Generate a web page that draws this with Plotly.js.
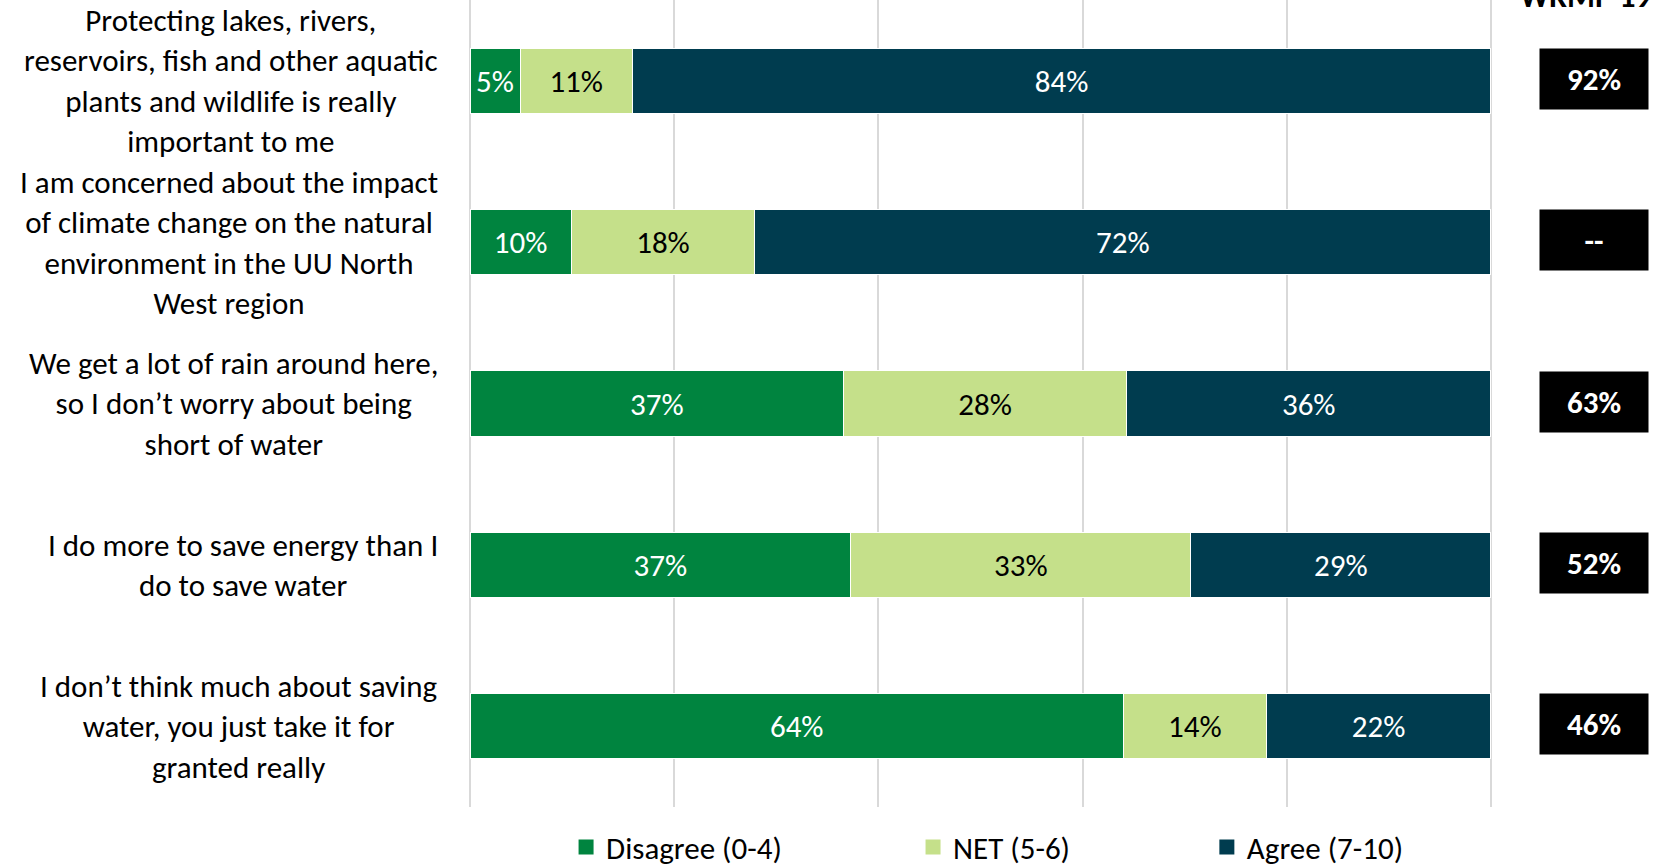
<!DOCTYPE html>
<html>
<head>
<meta charset="utf-8">
<script src="https://cdn.plot.ly/plotly-3.0.1.min.js"></script>
<style>html,body{margin:0;padding:0;background:#fff;}#chart{width:1675px;height:866px;}</style>
</head>
<body>
<div id="chart"></div>
<script>
const categories = [
  "Protecting lakes, rivers,<br>reservoirs, fish and other aquatic<br>plants and wildlife is really<br>important to me",
  "I am concerned about the impact<br>of climate change on the natural<br>environment in the UU North<br>West region",
  "We get a lot of rain around here,<br>so I don’t worry about being<br>short of water",
  "I do more to save energy than I<br>do to save water",
  "I don’t think much about saving<br>water, you just take it for<br>granted really"
];
const catIds = ["c1", "c2", "c3", "c4", "c5"];
const disagree = [4.9, 9.9, 36.6, 37.3, 64.0];
const net = [11.0, 18.0, 27.7, 33.3, 14.0];
const agree = [84.1, 72.1, 35.7, 29.4, 22.0];
const wrmp19 = ["92%", "--", "63%", "52%", "46%"];
const seriesNames = ["Disagree (0-4)", "NET (5-6)", "Agree (7-10)"];

const FONT = "Calibri, Carlito, Lato, sans-serif";
const colors = ["#00843F", "#C5E08A", "#003C4F"];
const textColors = ["#FFFFFF", "#000000", "#FFFFFF"];
const seriesVals = [disagree, net, agree];
const legendIds = ["legend", "legend2", "legend3"];

const traces = seriesVals.map((vals, i) => ({
  type: "bar",
  orientation: "h",
  name: seriesNames[i],
  x: vals,
  y: catIds,
  showlegend: false,
  marker: { color: colors[i], line: { color: "#FFFFFF", width: 1 } },
  texttemplate: "%{x:.0f}%",
  textposition: "inside",
  insidetextanchor: "middle",
  textangle: 0,
  constraintext: "none",
  textfont: { family: FONT, size: 31, color: textColors[i] },
  hoverinfo: "skip"
}));

// legend entries (square swatches matching the reference)
seriesNames.forEach((n, i) => {
  traces.push({
    type: "scatter", mode: "markers", name: n,
    x: [null], y: [null], legend: legendIds[i], showlegend: true,
    marker: { symbol: "square", size: 15, color: colors[i] },
    hoverinfo: "skip"
  });
});

const annotations = [];
categories.forEach((c, i) => {
  annotations.push({
    xref: "paper", yref: "y", x: 0, y: catIds[i],
    xanchor: "right", yanchor: "middle", xshift: -31,
    align: "center", showarrow: false, borderpad: 0,
    text: c, font: { family: FONT, size: 31, color: "#000" }
  });
  annotations.push({
    xref: "paper", yref: "y", x: 1.0998, y: catIds[i],
    xanchor: "center", yanchor: "middle", yshift: 2,
    showarrow: false, borderpad: 0, width: 108, height: 60,
    bgcolor: "#000000", valign: "middle",
    text: "<b>" + wrmp19[i] + "</b>",
    font: { family: FONT, size: 31, color: "#FFFFFF" }
  });
});
annotations.push({
  xref: "paper", yref: "paper", x: 1.092, y: 1,
  xanchor: "center", yanchor: "bottom", yshift: -17,
  showarrow: false, borderpad: 0,
  text: "<b>WRMP 19</b>",
  font: { family: FONT, size: 32, color: "#000" }
});

const legendBase = {
  orientation: "h", yanchor: "middle", xanchor: "left", y: -0.05,
  font: { family: FONT, size: 31, color: "#000" },
  bgcolor: "rgba(0,0,0,0)"
};

const layout = {
  width: 1675, height: 866,
  margin: { l: 470, r: 183, t: 0, b: 59, pad: 0, autoexpand: false },
  paper_bgcolor: "#FFFFFF", plot_bgcolor: "#FFFFFF",
  barmode: "stack",
  bargap: 0.595,
  font: { family: FONT },
  xaxis: {
    range: [0, 100.1], dtick: 20, tick0: 0,
    showticklabels: false, ticks: "",
    showgrid: true, gridcolor: "#D9D9D9", gridwidth: 2,
    zeroline: true, zerolinecolor: "#D9D9D9", zerolinewidth: 2,
    showline: false, fixedrange: true
  },
  yaxis: {
    type: "category", categoryorder: "array", categoryarray: catIds,
    range: [4.5, -0.5], showticklabels: false, ticks: "",
    showgrid: false, zeroline: false, showline: false, fixedrange: true
  },
  showlegend: true,
  legend: Object.assign({}, legendBase, { x: 0.094 }),
  legend2: Object.assign({}, legendBase, { x: 0.4335 }),
  legend3: Object.assign({}, legendBase, { x: 0.721 }),
  annotations: annotations
};

Plotly.newPlot("chart", traces, layout, { staticPlot: true, displayModeBar: false });
</script>
</body>
</html>
